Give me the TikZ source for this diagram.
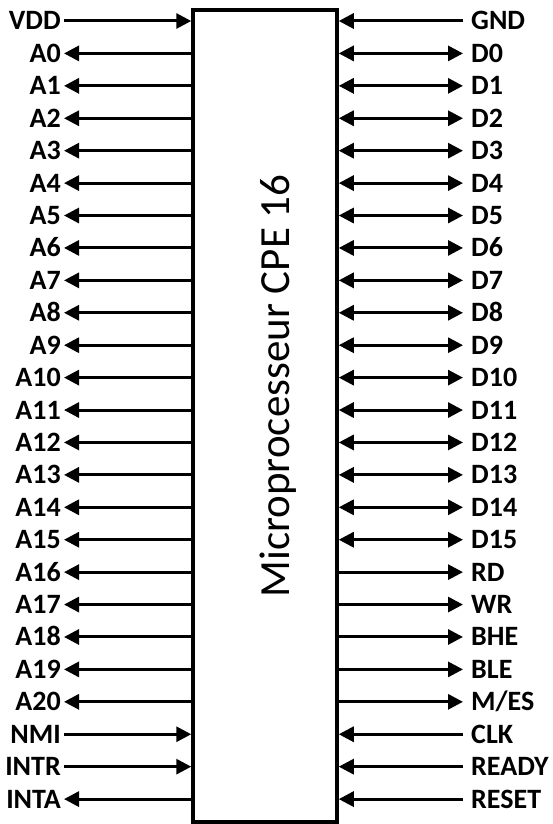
\documentclass[tikz,border=0pt]{standalone}
\usepackage{fontspec}
\setmainfont{Carlito}
\usetikzlibrary{arrows.meta}
\begin{document}
\begin{tikzpicture}[x=1pt,y=-1pt,
  wire/.style={line width=3pt},
  pin-in/.style={wire,-{Triangle[length=15pt,width=15pt]}},
  pin-out/.style={wire,{Triangle[length=15pt,width=15pt]}-},
  pin-bi/.style={wire,{Triangle[length=15pt,width=15pt]}-{Triangle[length=15pt,width=15pt]}},
  lab/.style={font=\bfseries\fontsize{28}{28}\selectfont, text height=18pt, text depth=0pt, inner ysep=0pt},
  chipbox/.style={draw, line width=3.5pt, minimum width=144pt, minimum height=812pt, inner sep=0pt}]
\useasboundingbox (0,0) rectangle (553,824);
\node[chipbox] (chip) at (265,416) {};
\node[rotate=90, font=\fontsize{43}{43}\selectfont] (title) at (278,386) {Microprocesseur CPE 16};
\foreach \t/\s [count=\i from 0] in {VDD/pin-in, A0/pin-out, A1/pin-out, A2/pin-out, A3/pin-out, A4/pin-out, A5/pin-out, A6/pin-out, A7/pin-out, A8/pin-out, A9/pin-out, A10/pin-out, A11/pin-out, A12/pin-out, A13/pin-out, A14/pin-out, A15/pin-out, A16/pin-out, A17/pin-out, A18/pin-out, A19/pin-out, A20/pin-out, NMI/pin-in, INTR/pin-in, INTA/pin-out} {
  \node[lab, anchor=east, inner xsep=3pt] (l\i) at (64,{21+32.42*\i}) {\t};
  \draw[\s] (l\i.east) -- (chip.west |- l\i.east);
}
\foreach \t/\s [count=\i from 0] in {GND/pin-in, D0/pin-bi, D1/pin-bi, D2/pin-bi, D3/pin-bi, D4/pin-bi, D5/pin-bi, D6/pin-bi, D7/pin-bi, D8/pin-bi, D9/pin-bi, D10/pin-bi, D11/pin-bi, D12/pin-bi, D13/pin-bi, D14/pin-bi, D15/pin-bi, RD/pin-out, WR/pin-out, BHE/pin-out, BLE/pin-out, {M/ES}/pin-out, CLK/pin-in, READY/pin-in, RESET/pin-in} {
  \node[lab, anchor=west, inner xsep=8pt] (r\i) at (463,{21+32.42*\i}) {\t};
  \draw[\s] (r\i.west) -- (chip.east |- r\i.west);
}
\end{tikzpicture}
\end{document}
